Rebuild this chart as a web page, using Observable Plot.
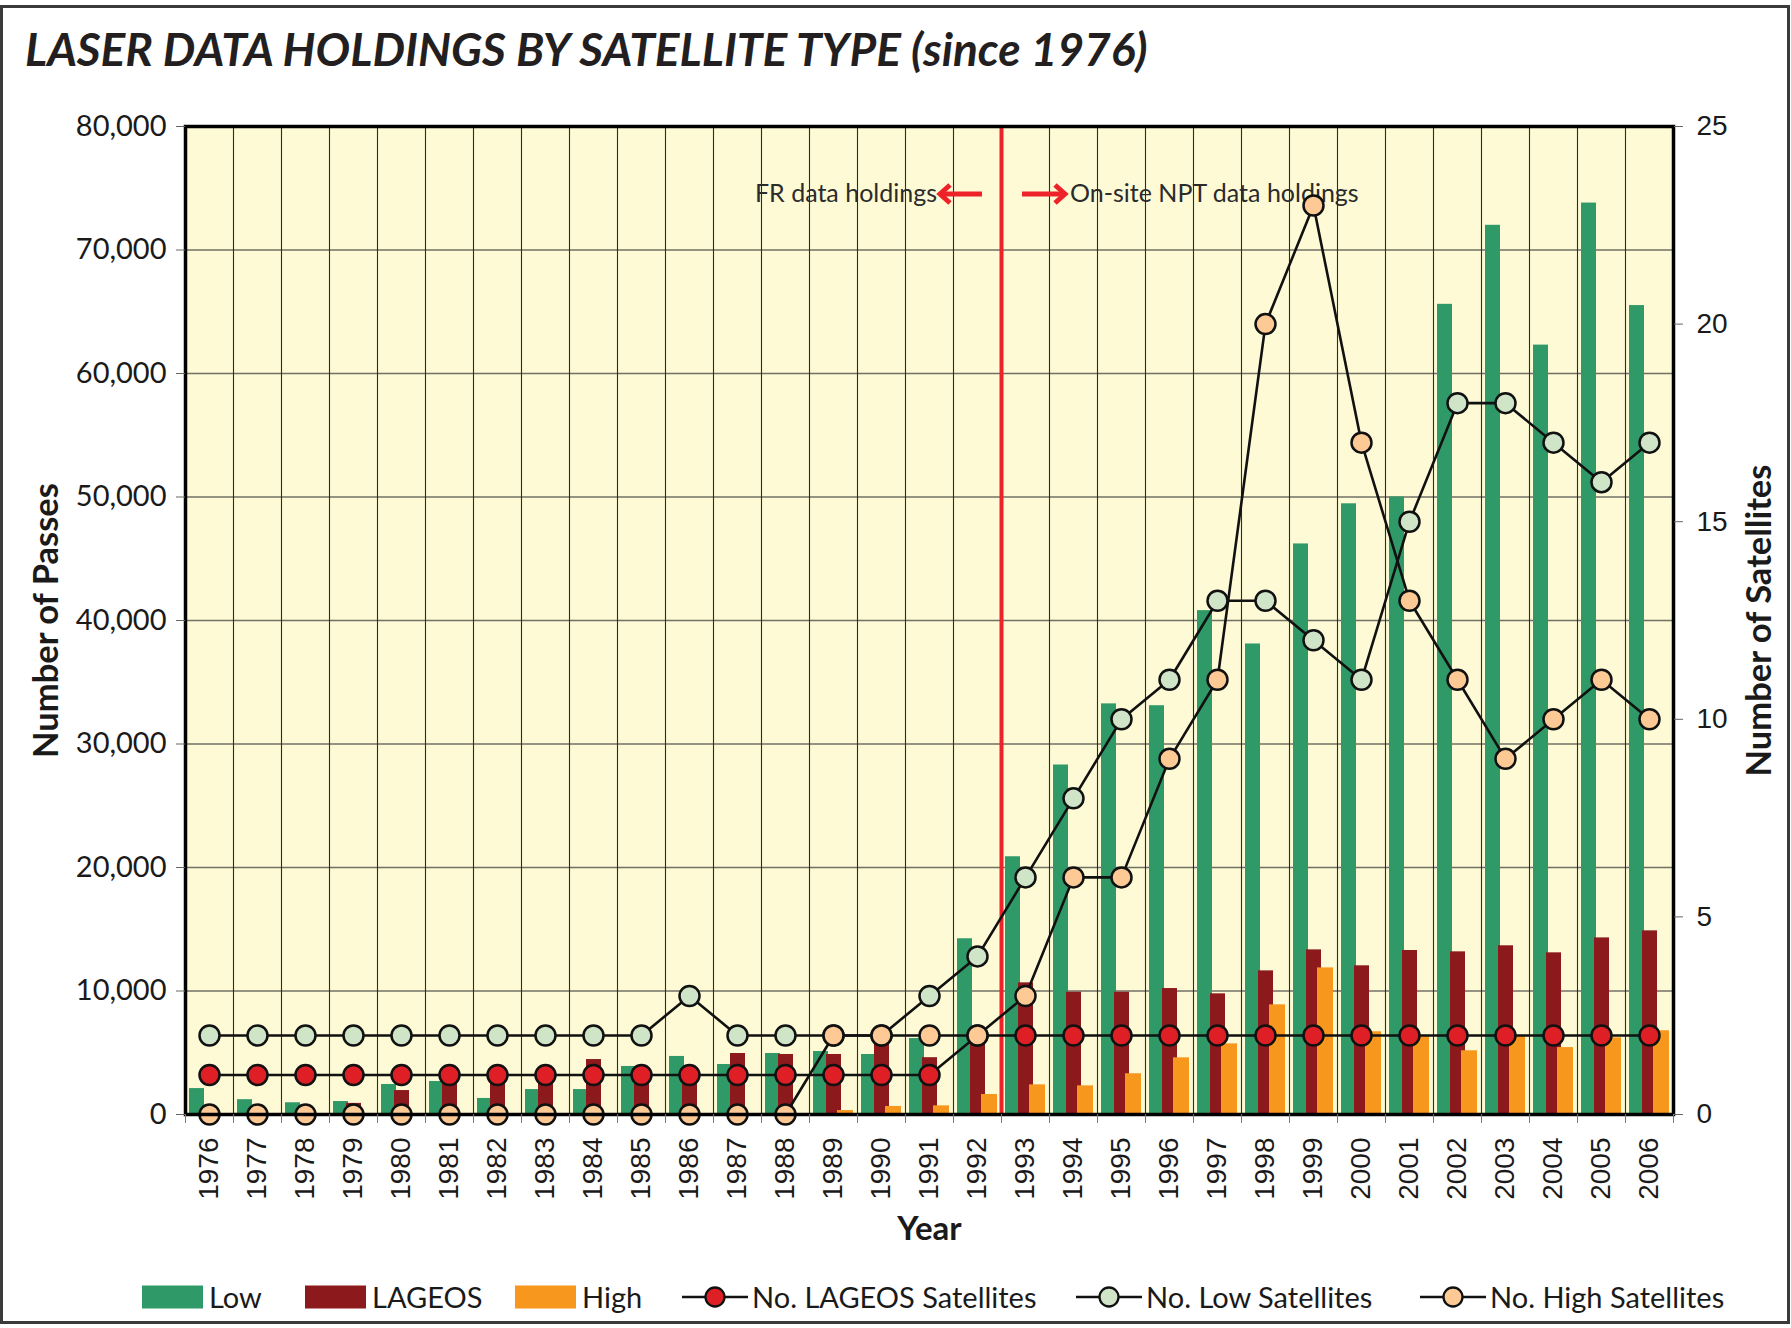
<!DOCTYPE html>
<html>
<head>
<meta charset="utf-8">
<script src="https://cdn.jsdelivr.net/npm/d3@7"></script>
<script src="https://cdn.jsdelivr.net/npm/@observablehq/plot@0.6"></script>
<style>
  html, body { margin: 0; padding: 0; background: #fff; }
  #wrap { position: relative; width: 1791px; height: 1328px; overflow: hidden; background: #fff; }
  #border { position: absolute; left: 0; top: 5px; width: 1790px; height: 1319px; border: 3px solid #3a3a3a; box-sizing: border-box; pointer-events: none; }
  #title { height: 90px; box-sizing: border-box; padding: 26px 0 0 25px; font-family: Lato, "Liberation Sans", sans-serif; font-style: italic; font-weight: 700; font-size: 46px; line-height: 46px; color: #231f20; white-space: nowrap; }
  #chart svg { display: block; }
  #legend { position: relative; height: 63px; font-family: Lato, "Liberation Sans", sans-serif; font-size: 29px; color: #1a1a1a; }
  #legend .item { position: absolute; top: 0; height: 63px; display: flex; align-items: center; white-space: nowrap; }
  #legend .item svg { display: block; }
</style>
</head>
<body>
<div id="wrap">
  <div id="title">LASER DATA HOLDINGS BY SATELLITE TYPE (since 1976)</div>
  <div id="chart"></div>
  <div id="legend"></div>
  <div id="border"></div>
</div>
<script>
// ---------- data ----------
const years = ["1976","1977","1978","1979","1980","1981","1982","1983","1984","1985","1986","1987","1988","1989","1990","1991","1992","1993","1994","1995","1996","1997","1998","1999","2000","2001","2002","2003","2004","2005","2006"];
const lowPasses = [2100,1200,950,1050,2430,2670,1300,2020,2020,3890,4700,4050,4940,5100,4860,6150,14230,20870,28300,33250,33100,40800,38100,46200,49450,50000,65600,72000,62300,73800,65500];
const lageosPasses = [0,0,0,900,1940,2800,2600,2900,4450,3600,3400,4940,4860,4860,6000,4600,6200,10660,9900,9900,10200,9770,11630,13330,12040,13280,13170,13660,13090,14300,14870];
const highPasses = [0,0,0,0,0,0,0,0,0,0,0,0,0,320,650,700,1620,2400,2320,3300,4590,5720,8880,11870,6700,6300,5160,6350,5420,6210,6780];
const lageosSats = [1,1,1,1,1,1,1,1,1,1,1,1,1,1,1,1,2,2,2,2,2,2,2,2,2,2,2,2,2,2,2];
const lowSats = [2,2,2,2,2,2,2,2,2,2,3,2,2,2,2,3,4,6,8,10,11,13,13,12,11,15,18,18,17,16,17];
const highSats = [0,0,0,0,0,0,0,0,0,0,0,0,0,2,2,2,2,3,6,6,9,11,20,23,17,13,11,9,10,11,10];
const passTicks = [0,10000,20000,30000,40000,50000,60000,70000,80000];
const satTicks = [0,5,10,15,20,25];
const passMax = 80000, satMax = 25;
const dividerYear = "1993";
const noteLeft = "FR data holdings";
const noteRight = "On-site NPT data holdings";
const titleLeft = "Number of Passes";
const titleRight = "Number of Satellites";
const titleX = "Year";

// ---------- styles ----------
const C = {
  low: "#2f9a67", lageos: "#8c191c", high: "#f7971e",
  lageosDot: "#de2026", lowDot: "#d0e5c7", highDot: "#fdc994",
  bg: "#fdfad5", divider: "#ee2329", ink: "#1a1a1a"
};
const FONT = "Lato, 'Liberation Sans', sans-serif";
const FONT_NUM = "'Liberation Sans Narrow', 'Liberation Sans', sans-serif";
const HALF = 24; // half band width (px)

const k = passMax / satMax; // maps satellite counts onto the passes axis
const rows = (vals, f = 1) => years.map((y, i) => ({year: y, v: vals[i] * f}));

const barSeries = [
  {name: "Low", vals: lowPasses, fill: C.low, insetLeft: 4, insetRight: 29, legendLeft: 142},
  {name: "LAGEOS", vals: lageosPasses, fill: C.lageos, insetLeft: 17, insetRight: 16, legendLeft: 305},
  {name: "High", vals: highPasses, fill: C.high, insetLeft: 28, insetRight: 4, legendLeft: 515}
];
const lineSeries = [
  {name: "No. LAGEOS Satellites", vals: lageosSats, fill: C.lageosDot, legendLeft: 682},
  {name: "No. Low Satellites", vals: lowSats, fill: C.lowDot, legendLeft: 1076},
  {name: "No. High Satellites", vals: highSats, fill: C.highDot, legendLeft: 1420}
];

function annotations(index, scales, values, dims) {
  const bx = scales.x(dividerYear);
  const yy = dims.marginTop + 68;
  const g = d3.create("svg:g");
  const arrow = (tail, head) => {
    const dir = head > tail ? 1 : -1;
    g.append("path")
      .attr("d", `M${tail},${yy}H${head - dir * 2}`)
      .attr("stroke", C.divider).attr("stroke-width", 5).attr("fill", "none");
    g.append("path")
      .attr("d", `M${head - dir * 10},${yy - 9}L${head},${yy}L${head - dir * 10},${yy + 9}`)
      .attr("stroke", C.divider).attr("stroke-width", 5).attr("fill", "none").attr("stroke-linejoin", "miter");
  };
  arrow(bx - 19, bx - 61);
  arrow(bx + 21, bx + 64);
  const txt = (x, anchor, s) => g.append("text")
    .attr("x", x).attr("y", yy + 8)
    .attr("text-anchor", anchor)
    .attr("font-family", FONT).attr("font-size", 25).attr("fill", "#2b2b2b")
    .text(s);
  txt(bx - 64, "end", noteLeft);
  txt(bx + 69, "start", noteRight);
  return g.node();
}

const marks = [
  Plot.frame({fill: C.bg, stroke: null}),
  Plot.gridY(passTicks, {stroke: "#707064", strokeOpacity: 1, strokeWidth: 1.6}),
  Plot.ruleX(years.slice(1), {dx: -HALF, stroke: "#2b2b2b", strokeWidth: 1.1}),
  ...barSeries.map(s => Plot.barY(rows(s.vals), {x: "year", y: "v", fill: s.fill, insetLeft: s.insetLeft, insetRight: s.insetRight})),
  Plot.ruleX([dividerYear], {dx: -HALF, stroke: C.divider, strokeWidth: 4}),
  annotations
];
for (const s of lineSeries) {
  marks.push(Plot.line(rows(s.vals, k), {x: "year", y: "v", stroke: "#111", strokeWidth: 2.6}));
  marks.push(Plot.dot(rows(s.vals, k), {x: "year", y: "v", r: 10, fill: s.fill, stroke: "#111", strokeWidth: 2.5}));
}
marks.push(
  Plot.frame({stroke: "#000", strokeWidth: 3.5}),
  Plot.axisY(passTicks, {anchor: "left", tickSize: 9, tickPadding: 10, tickFormat: d3.format(","), fontSize: 29, fontFamily: FONT, stroke: "#666", fill: C.ink, label: null}),
  Plot.axisY(satTicks.map(v => v * k), {anchor: "right", tickSize: 9, tickPadding: 14, tickFormat: d => d / k, fontSize: 28, fontFamily: FONT_NUM, stroke: "#666", fill: C.ink, label: null}),
  Plot.axisX(years, {anchor: "bottom", tickSize: 9, tickFormat: () => "", dx: -HALF, stroke: "#777", label: null}),
  Plot.axisX([years[years.length - 1]], {anchor: "bottom", tickSize: 9, tickFormat: () => "", dx: HALF, stroke: "#777", label: null}),
  Plot.axisX(years, {anchor: "bottom", tickSize: 0, tickPadding: 23, tickRotate: -90, fontSize: 28, fontFamily: FONT_NUM, fill: C.ink, label: null}),
  Plot.text([titleLeft], {frameAnchor: "left", rotate: -90, textAnchor: "middle", lineAnchor: "middle", dx: -139, fontSize: 34.5, fontWeight: "bold", fontFamily: FONT, fill: C.ink}),
  Plot.text([titleRight], {frameAnchor: "right", rotate: -90, textAnchor: "middle", lineAnchor: "middle", dx: 86, fontSize: 34.5, fontWeight: "bold", fontFamily: FONT, fill: C.ink}),
  Plot.text([titleX], {frameAnchor: "bottom", textAnchor: "middle", lineAnchor: "middle", dy: 115, fontSize: 33, fontWeight: "bold", fontFamily: FONT, fill: C.ink})
);

const chart = Plot.plot({
  width: 1791,
  height: 1175,
  marginLeft: 185,
  marginRight: 118,
  marginTop: 36,
  marginBottom: 151,
  x: {type: "band", domain: years, padding: 0, axis: null},
  y: {domain: [0, passMax], axis: null},
  style: {background: "transparent", fontFamily: FONT, color: C.ink, overflow: "visible"},
  marks
});
document.getElementById("chart").appendChild(chart);

// ---------- legend ----------
const legend = d3.select("#legend");
for (const s of barSeries) {
  const it = legend.append("span").attr("class", "item").style("left", s.legendLeft + "px");
  const sv = it.append("svg").attr("width", 61).attr("height", 24).style("margin-right", "6px");
  sv.append("rect").attr("width", 61).attr("height", 23).attr("y", 0.5).attr("fill", s.fill);
  it.append("span").text(s.name);
}
for (const s of lineSeries) {
  const it = legend.append("span").attr("class", "item").style("left", s.legendLeft + "px");
  const sv = it.append("svg").attr("width", 66).attr("height", 26).style("margin-right", "4px");
  sv.append("line").attr("x1", 0).attr("x2", 66).attr("y1", 13).attr("y2", 13).attr("stroke", "#111").attr("stroke-width", 2.6);
  sv.append("circle").attr("cx", 33).attr("cy", 13).attr("r", 9.5).attr("fill", s.fill).attr("stroke", "#111").attr("stroke-width", 2.3);
  it.append("span").text(s.name);
}
</script>
</body>
</html>
